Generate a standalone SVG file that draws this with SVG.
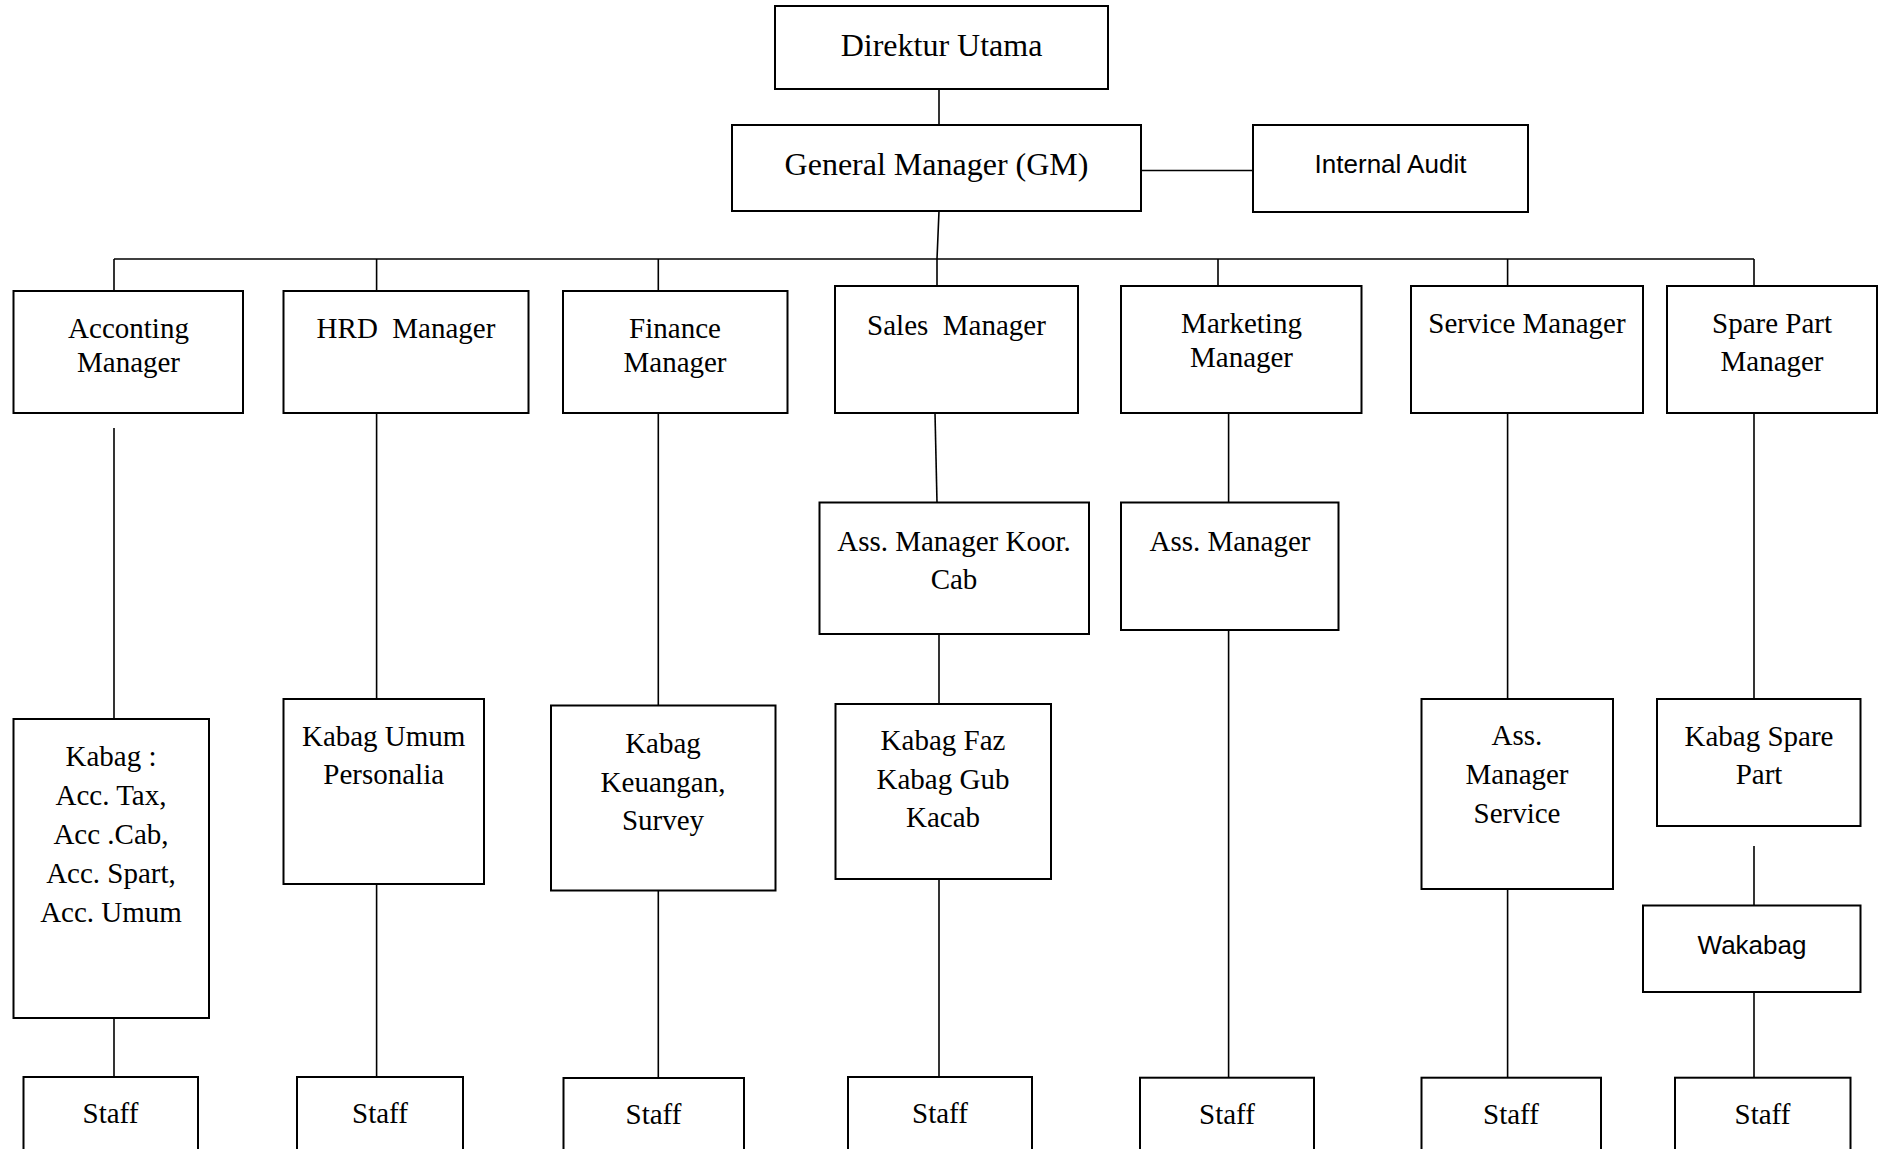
<svg xmlns="http://www.w3.org/2000/svg" width="1883" height="1149" viewBox="0 0 1883 1149">
<style>
.box{fill:#fff;stroke:#000;stroke-width:2}
.ln{fill:none;stroke:#000;stroke-width:1.6}
.t{font-family:"Liberation Serif","Times New Roman",serif;font-size:29px;fill:#000;text-anchor:middle}
.tb{font-family:"Liberation Serif","Times New Roman",serif;font-size:32px;fill:#000;text-anchor:middle}
.s{font-family:"Liberation Sans",Arial,sans-serif;font-size:26px;fill:#000;text-anchor:middle}
</style>
<rect width="1883" height="1149" fill="#fff"/>
<g id="connectors">
<path class="ln" d="M939,89 V125"/>
<path class="ln" d="M1141,170.5 H1253"/>
<path class="ln" d="M939,211 L937,259 V286"/>
<path class="ln" d="M114,259 H1754"/>
<path class="ln" d="M114,259 V291"/>
<path class="ln" d="M376.6,259 V291"/>
<path class="ln" d="M658.3,259 V291"/>
<path class="ln" d="M1218,259 V286"/>
<path class="ln" d="M1507.6,259 V286"/>
<path class="ln" d="M1754,259 V286"/>
<path class="ln" d="M114,428 V719"/>
<path class="ln" d="M114,1018 V1077"/>
<path class="ln" d="M376.6,413 V699"/>
<path class="ln" d="M376.6,884 V1077"/>
<path class="ln" d="M658.3,413 V705.5"/>
<path class="ln" d="M658.3,890.5 V1078"/>
<path class="ln" d="M935,413 L937,502.5"/>
<path class="ln" d="M939,634 V704"/>
<path class="ln" d="M939,879 V1077"/>
<path class="ln" d="M1228.6,413 V502.5"/>
<path class="ln" d="M1228.6,630 V1077.7"/>
<path class="ln" d="M1507.6,413 V699"/>
<path class="ln" d="M1507.6,889 V1077.7"/>
<path class="ln" d="M1754,413 V699"/>
<path class="ln" d="M1754,846 V905.5"/>
<path class="ln" d="M1754,992 V1077.7"/>
</g>
<g id="direktur"><rect class="box" x="775" y="6" width="333" height="83"/><text class="tb" x="941.5" y="56">Direktur Utama</text></g>
<g id="gm"><rect class="box" x="732" y="125" width="409" height="86"/><text class="tb" x="936.5" y="175">General Manager (GM)</text></g>
<g id="internal-audit"><rect class="box" x="1253" y="125" width="275" height="87"/><text class="s" x="1390.5" y="173">Internal Audit</text></g>
<g id="accounting"><rect class="box" x="13.5" y="291" width="229.5" height="122"/><text class="t" x="128.5" y="338">Acconting</text><text class="t" x="128.5" y="371.5">Manager</text></g>
<g id="hrd"><rect class="box" x="283.5" y="291" width="245" height="122"/><text class="t" x="406" y="338" xml:space="preserve">HRD  Manager</text></g>
<g id="finance"><rect class="box" x="563" y="291" width="224.5" height="122"/><text class="t" x="675" y="338">Finance</text><text class="t" x="675" y="371.5">Manager</text></g>
<g id="sales"><rect class="box" x="835" y="286" width="243" height="127"/><text class="t" x="956.5" y="335" xml:space="preserve">Sales  Manager</text></g>
<g id="marketing"><rect class="box" x="1121" y="286" width="240.5" height="127"/><text class="t" x="1241.5" y="333">Marketing</text><text class="t" x="1241.5" y="366.5">Manager</text></g>
<g id="service"><rect class="box" x="1411" y="286" width="232" height="127"/><text class="t" x="1527" y="333">Service Manager</text></g>
<g id="sparepart"><rect class="box" x="1667" y="286" width="210" height="127"/><text class="t" x="1772" y="333">Spare Part</text><text class="t" x="1772" y="371">Manager</text></g>
<g id="ass-koor"><rect class="box" x="819.5" y="502.5" width="269.5" height="131.5"/><text class="t" x="954" y="551">Ass. Manager Koor.</text><text class="t" x="954" y="589">Cab</text></g>
<g id="ass-marketing"><rect class="box" x="1121" y="502.5" width="217.5" height="127.5"/><text class="t" x="1230" y="551">Ass. Manager</text></g>
<g id="kabag-acc"><rect class="box" x="13.5" y="719" width="195.5" height="299"/><text class="t" x="111" y="766">Kabag :</text><text class="t" x="111" y="805">Acc. Tax,</text><text class="t" x="111" y="844">Acc .Cab,</text><text class="t" x="111" y="883">Acc. Spart,</text><text class="t" x="111" y="922">Acc. Umum</text></g>
<g id="kabag-umum"><rect class="box" x="283.5" y="699" width="200.5" height="185"/><text class="t" x="383.7" y="746">Kabag Umum</text><text class="t" x="383.7" y="784">Personalia</text></g>
<g id="kabag-keuangan"><rect class="box" x="551" y="705.5" width="224.5" height="185"/><text class="t" x="663" y="753">Kabag</text><text class="t" x="663" y="792">Keuangan,</text><text class="t" x="663" y="830">Survey</text></g>
<g id="kabag-faz"><rect class="box" x="835.5" y="704" width="215.5" height="175"/><text class="t" x="943" y="750">Kabag Faz</text><text class="t" x="943" y="789">Kabag Gub</text><text class="t" x="943" y="827">Kacab</text></g>
<g id="ass-service"><rect class="box" x="1421.5" y="699" width="191.5" height="190"/><text class="t" x="1517" y="745">Ass.</text><text class="t" x="1517" y="784">Manager</text><text class="t" x="1517" y="823">Service</text></g>
<g id="kabag-spare"><rect class="box" x="1657" y="699" width="203.5" height="127"/><text class="t" x="1759" y="746">Kabag Spare</text><text class="t" x="1759" y="784">Part</text></g>
<g id="wakabag"><rect class="box" x="1643" y="905.5" width="217.5" height="86.5"/><text class="s" x="1752" y="954">Wakabag</text></g>
<g id="staff1"><rect class="box" x="23.5" y="1077" width="174.5" height="90"/><text class="t" x="110.5" y="1123">Staff</text></g>
<g id="staff2"><rect class="box" x="297" y="1077" width="166" height="90"/><text class="t" x="380" y="1123">Staff</text></g>
<g id="staff3"><rect class="box" x="563.5" y="1078" width="180.5" height="90"/><text class="t" x="653.5" y="1124">Staff</text></g>
<g id="staff4"><rect class="box" x="848" y="1077" width="184" height="90"/><text class="t" x="940" y="1123">Staff</text></g>
<g id="staff5"><rect class="box" x="1140" y="1077.7" width="174" height="90"/><text class="t" x="1227" y="1124">Staff</text></g>
<g id="staff6"><rect class="box" x="1421.5" y="1077.7" width="179.5" height="90"/><text class="t" x="1511" y="1124">Staff</text></g>
<g id="staff7"><rect class="box" x="1675" y="1077.7" width="175.5" height="90"/><text class="t" x="1762.5" y="1124">Staff</text></g>
</svg>
